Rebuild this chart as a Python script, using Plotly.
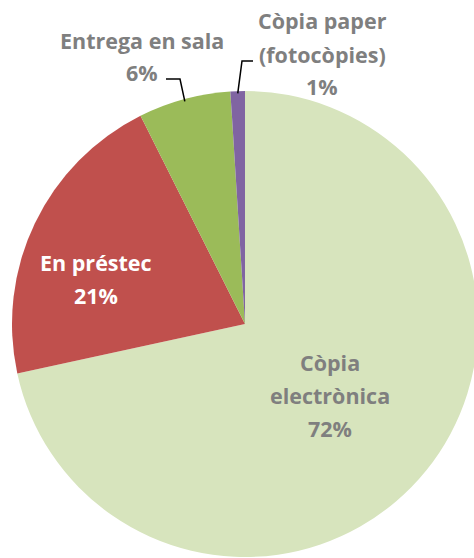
import math
import plotly.graph_objects as go

# ---- data ----
categories = ["Còpia electrònica", "En préstec", "Entrega en sala", "Còpia paper (fotocòpies)"]
values = [71.6, 21.0, 6.4, 1.0]
label_lines = [["Còpia", "electrònica"], ["En préstec"], ["Entrega en sala"], ["Còpia paper", "(fotocòpies)"]]

# ---- styles ----
colors = ["#d7e4bd", "#c0504d", "#9bbb59", "#8064a2"]
text_colors = ["#7f7f7f", "#ffffff", "#7f7f7f", "#7f7f7f"]
FONT = "Open Sans"
FSIZE = 21.5
LINE_GAP = 33

# figure is slightly wider than the window; the pie's right edge is cropped like the reference
W, H = 478, 558
# pie domain in pixels
DX0, DX1 = 12, 478
DY0, DY1 = 91, 557
R = min(DX1 - DX0, DY1 - DY0) / 2
CX = (DX0 + DX1) / 2
CY = (DY0 + DY1) / 2

def px(x):
    return x / W

def py(y):
    return (H - y) / H

# label placement relative to pie centre (x centre, first baseline)
label_pos = [(85, 369 - 324), (-149, 269 - 324), (-103, 47 - 324), (77, 28 - 324)]
# leader line elbows for outside labels (relative to centre): (elbow, end)
leaders = {2: ((-65, 79 - 324), (-79, 79 - 324)), 3: ((-3, 61 - 324), (8, 61 - 324))}

total = sum(values)
pcts = [round(v / total * 100) for v in values]

fig = go.Figure(go.Pie(
    labels=categories,
    values=values,
    sort=False,
    direction="clockwise",
    rotation=0,
    marker=dict(colors=colors, line=dict(width=0)),
    textinfo="none",
    hoverinfo="skip",
    showlegend=False,
    domain=dict(x=[DX0 / W, DX1 / W], y=[(H - DY1) / H, (H - DY0) / H]),
))

annotations = []
shapes = []
for i, lines in enumerate(label_lines):
    all_lines = lines + [f"{pcts[i]}%"]
    lx, ly = label_pos[i]
    for k, t in enumerate(all_lines):
        base = CY + ly + k * LINE_GAP
        annotations.append(dict(
            x=px(CX + lx), y=py(base - 7), xref="paper", yref="paper",
            text=f"<b>{t}</b>", showarrow=False, xanchor="center", yanchor="middle",
            font=dict(family=FONT, size=FSIZE, color=text_colors[i]),
        ))

cum = 0
for i, v in enumerate(values):
    mid = (cum + v / 2) / total * 2 * math.pi
    cum += v
    if i in leaders:
        ex = CX + math.sin(mid) * R * 0.99
        ey = CY - math.cos(mid) * R * 0.99
        (bx, by), (fx, fy) = leaders[i]
        path = (f"M {px(ex)},{py(ey)} L {px(CX + bx)},{py(CY + by)} "
                f"L {px(CX + fx)},{py(CY + fy)}")
        shapes.append(dict(type="path", path=path, xref="paper", yref="paper",
                           line=dict(color="#000000", width=1.5)))

fig.update_layout(
    width=W, height=H,
    margin=dict(l=0, r=0, t=0, b=0),
    paper_bgcolor="#ffffff",
    plot_bgcolor="#ffffff",
    annotations=annotations,
    shapes=shapes,
)

fig.write_html(
    "out.html",
    config={"displayModeBar": False},
    post_script="document.body.style.margin='0';document.body.style.overflow='hidden';",
)
